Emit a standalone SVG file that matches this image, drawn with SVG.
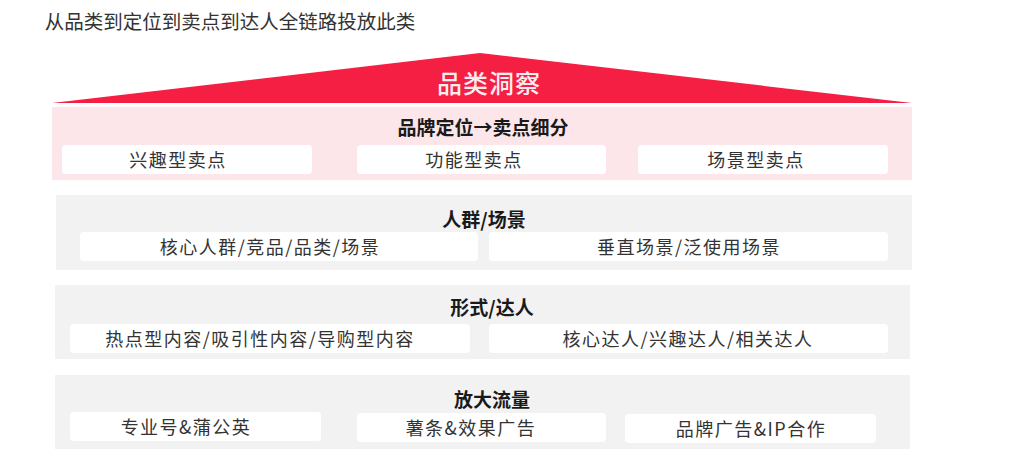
<svg xmlns="http://www.w3.org/2000/svg" width="1035" height="471" viewBox="0 0 1035 471">
<style>
text{font-family:"Noto Sans CJK SC","Noto Sans",sans-serif;text-anchor:middle;dominant-baseline:central}
.head{font-size:19px;font-weight:bold;fill:#1a1a1a}
.item{font-size:18px;fill:#333;letter-spacing:1.5px}
.box{fill:#ffffff}
.panel{fill:#f2f2f2}
</style>
<rect width="1035" height="471" fill="#ffffff"/>
<text x="230" y="20" style="font-size:19.5px;fill:#333;text-anchor:middle">从品类到定位到卖点到达人全链路投放此类</text>
<g id="roof">
<polygon points="52,103 480,53 912,103" fill="#f51f43"/>
<text x="489" y="82" style="font-size:25px;font-weight:500;fill:#fdecef;letter-spacing:1px">品类洞察</text>
</g>
<g id="layer1">
<rect x="52" y="107" width="860" height="73" fill="#fde6e9"/>
<text class="head" x="483" y="126">品牌定位→卖点细分</text>
<g id="l1a"><rect class="box" x="62" y="145" width="250" height="29" rx="4"/><text class="item" x="178" y="159">兴趣型卖点</text></g>
<g id="l1b"><rect class="box" x="357" y="145" width="249" height="29" rx="4"/><text class="item" x="474" y="159">功能型卖点</text></g>
<g id="l1c"><rect class="box" x="638" y="145" width="250" height="29" rx="4"/><text class="item" x="756" y="159">场景型卖点</text></g>
</g>
<g id="layer2">
<rect class="panel" x="56" y="195" width="856" height="75"/>
<text class="head" x="484" y="218">人群/场景</text>
<g id="l2a"><rect class="box" x="80" y="232" width="398" height="29" rx="4"/><text class="item" x="270" y="246">核心人群/竞品/品类/场景</text></g>
<g id="l2b"><rect class="box" x="489" y="232" width="399" height="29" rx="4"/><text class="item" x="689" y="246">垂直场景/泛使用场景</text></g>
</g>
<g id="layer3">
<rect class="panel" x="55" y="285" width="855" height="74"/>
<text class="head" x="492" y="306">形式/达人</text>
<g id="l3a"><rect class="box" x="70" y="324" width="400" height="29" rx="4"/><text class="item" x="260" y="338">热点型内容/吸引性内容/导购型内容</text></g>
<g id="l3b"><rect class="box" x="489" y="324" width="399" height="29" rx="4"/><text class="item" x="688" y="338">核心达人/兴趣达人/相关达人</text></g>
</g>
<g id="layer4">
<rect class="panel" x="55" y="375" width="855" height="74"/>
<text class="head" x="492" y="398">放大流量</text>
<g id="l4a"><rect class="box" x="70" y="412" width="251" height="29" rx="4"/><text class="item" x="186" y="426">专业号&amp;蒲公英</text></g>
<g id="l4b"><rect class="box" x="357" y="413" width="249" height="29" rx="4"/><text class="item" x="471" y="427">薯条&amp;效果广告</text></g>
<g id="l4c"><rect class="box" x="625" y="414" width="251" height="29" rx="4"/><text class="item" x="751" y="428">品牌广告&amp;IP合作</text></g>
</g>
<g id="connectors"/>
</svg>
